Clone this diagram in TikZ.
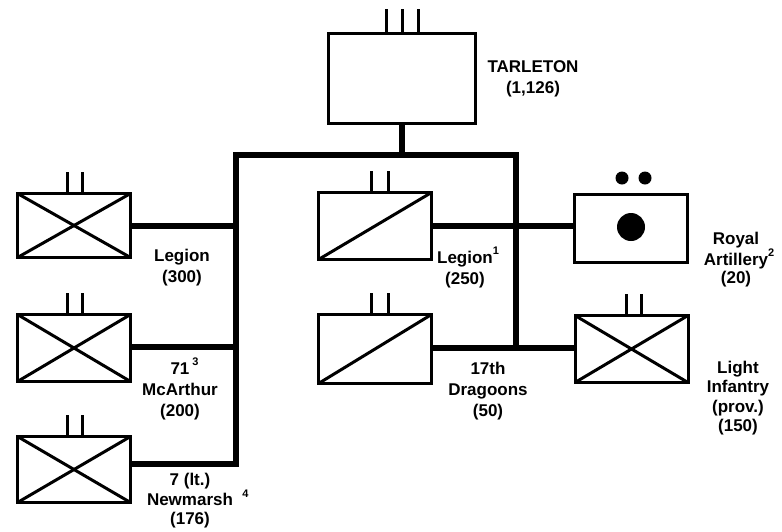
\documentclass[tikz,border=0pt]{standalone}
\usepackage{fontspec}
\setmainfont{Liberation Sans}
\usetikzlibrary{calc}
\newcommand{\supnum}[1]{\raisebox{0.5em}{\fontsize{11}{11}\selectfont #1}}
\begin{document}
\begin{tikzpicture}[x=1pt,y=-1pt,
  unit/.style={draw,line width=3pt,minimum width=113pt,inner sep=0pt,outer sep=0pt},
  bus/.style={line width=6pt},
  sym/.style={line width=3pt},
  lbl/.style={font=\fontsize{17}{21}\selectfont\bfseries,align=center,inner sep=0pt},
  lbltight/.style={font=\fontsize{17}{18.5}\selectfont\bfseries,align=center,inner sep=0pt}]
\fill[white] (0,0) rectangle (782,531);
\useasboundingbox (0,0) rectangle (782,531);

% unit boxes
\node[unit,minimum width=147pt,minimum height=90pt] (tarleton) at (402,78.5) {};
\node[unit,minimum height=64pt] (leg300) at (74,225.5) {};
\node[unit,minimum height=67pt] (mca) at (74,348) {};
\node[unit,minimum height=66pt] (new) at (74,469.5) {};
\node[unit,minimum height=67pt] (leg250) at (375,226) {};
\node[unit,minimum height=69pt] (drag) at (375,349) {};
\node[unit,minimum height=68pt] (art) at (631,228.5) {};
\node[unit,minimum height=67pt] (li) at (631.5,349) {};

% symbols inside boxes
\foreach \b in {leg300,mca,new,li}{
  \draw[sym] (\b.north west) -- (\b.south east);
  \draw[sym] (\b.south west) -- (\b.north east);
}
\foreach \b in {leg250,drag}{
  \draw[sym] (\b.south west) -- (\b.north east);
}
\fill ($(art.center)+(0,-1.5)$) circle (14);
\fill ($(art.north)+(-9,-16.5)$) circle (6.5);
\fill ($(art.north)+(14,-16.5)$) circle (6.5);

% size ticks
\foreach \dx in {-16,0,16}{
  \draw[sym] ($(tarleton.north)+(\dx,0)$) -- ++(0,-25);
}
\foreach \b in {leg300,mca,new}{
  \foreach \dx in {-7,8}{
    \draw[sym] ($(\b.north)+(\dx,0)$) -- ++(0,-22);
  }
}
\foreach \b in {leg250,drag}{
  \foreach \dx in {-4,13}{
    \draw[sym] ($(\b.north)+(\dx,0)$) -- ++(0,-22);
  }
}
\foreach \dx in {-5.5,9.5}{
  \draw[sym] ($(li.north)+(\dx,0)$) -- ++(0,-22);
}

% connectors
\coordinate (jl) at (236,155);
\coordinate (jr) at (516,155);
\coordinate (jb) at (236,464);
\coordinate (jd) at (516,348);
\draw[bus] (tarleton.south) -- (tarleton.south |- jl);
\draw[bus] (new.east |- jb) -- (jb) -- (jl) -- (jr) -- (jd);
\draw[bus] (leg300.east |- 0,226) -- (jl |- 0,226);
\draw[bus] (mca.east |- 0,347) -- (jl |- 0,347);
\draw[bus] (leg250.east |- 0,226) -- (art.west |- 0,226);
\draw[bus] (drag.east |- jd) -- (li.west |- jd);

% labels
\node[lbl] (ltar) at (533,78.5) {TARLETON\\(1,126)};
\node[lbl] (l300) at (182,267.5) {Legion\\(300)};
\node[lbl] (lmca) at (180,389) {71\rlap{\,\supnum{3}}\\McArthur\\(200)};
\node[lbltight] (lnew) at (190,500.5) {7 (lt.)\\Newmarsh\rlap{\ \ \supnum{4}}\\(176)};
\node[lbl] (l250) at (465,267.5) {Legion\rlap{\supnum{1}}\\(250)};
\node[lbl] (ldrag) at (488,391) {17th\\Dragoons\\(50)};
\node[lbltight] (lart) at (736,259.5) {Royal\\Artillery\rlap{\supnum{2}}\\(20)};
\node[lbltight,font=\fontsize{17}{19.3}\selectfont\bfseries] (lli) at (738,398) {Light\\Infantry\\(prov.)\\(150)};
\end{tikzpicture}
\end{document}
